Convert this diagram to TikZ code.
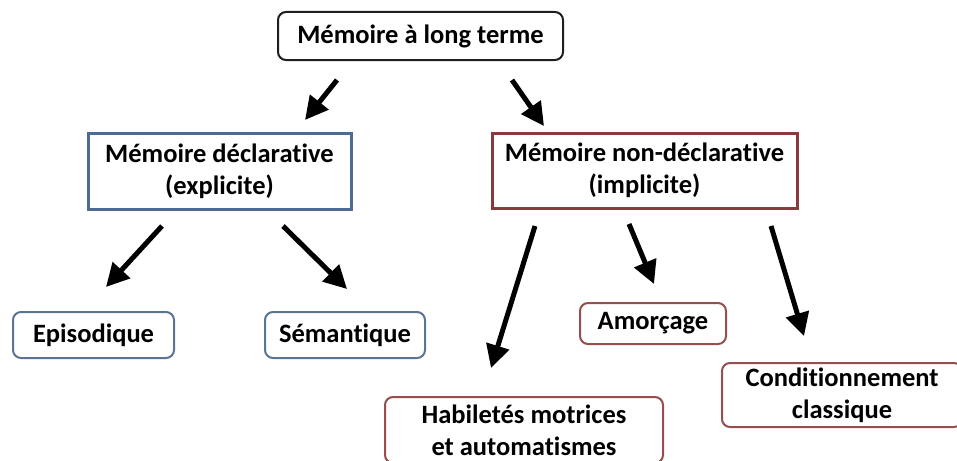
\documentclass[tikz,border=0pt]{standalone}
\usepackage{fontspec}
\setmainfont{Carlito}[Ligatures=NoCommon]
\usetikzlibrary{arrows.meta}
\definecolor{declblue}{HTML}{4E6C93}
\definecolor{nondred}{HTML}{8A3A3A}
\definecolor{leafblue}{HTML}{5B7496}
\definecolor{leafred}{HTML}{8E4E4E}
\tikzset{
  memtext/.style={font=\fontsize{26.5}{32}\selectfont\bfseries, align=center, inner sep=0pt, fill=white},
  topbox/.style={memtext, draw=black!88, line width=2pt, rounded corners=8pt},
  declbox/.style={memtext, draw=declblue, line width=3pt},
  nondbox/.style={memtext, draw=nondred, line width=3pt},
  leafb/.style={memtext, draw=leafblue, line width=2pt, rounded corners=8pt},
  leafr/.style={memtext, draw=nondred!90, line width=2pt, rounded corners=8pt},
  bigarrow/.style={line width=5pt, -{Triangle[length=23pt,width=23pt]}}
}
\begin{document}
\begin{tikzpicture}[x=1pt,y=-1pt]
  \useasboundingbox (0,0) rectangle (957,460);
  \node[topbox, minimum width=285pt, minimum height=48pt] (lt) at (420.5,36) {Mémoire à long terme};
  \node[declbox, minimum width=263pt, minimum height=76pt] (decl) at (219.5,171) {Mémoire déclarative\\(explicite)};
  \node[nondbox, minimum width=305pt, minimum height=75pt] (nond) at (644.5,170.5) {Mémoire non-déclarative\\(implicite)};
  \node[leafb, minimum width=161pt, minimum height=46pt] (epi) at (93.5,335) {Episodique};
  \node[leafb, minimum width=160pt, minimum height=46pt] (sem) at (345,335) {Sémantique};
  \node[leafr, minimum width=146pt, minimum height=41pt] (amor) at (653,323.5) {Amorçage};
  \node[leafr, minimum width=278pt, minimum height=66pt] (hab) at (524,430) {Habiletés motrices\\et automatismes};
  \node[leafr, minimum width=240pt, minimum height=64pt] (cond) at (842,395) {Conditionnement\\classique};
  \coordinate (lt1) at (337,80);
  \coordinate (decl0) at (305,120);
  \coordinate (lt2) at (512,80);
  \coordinate (nond0) at (544,126);
  \coordinate (decl1) at (162,226);
  \coordinate (epi0) at (106,287);
  \coordinate (decl2) at (283,226);
  \coordinate (sem0) at (347,289);
  \coordinate (nond1) at (535,226);
  \coordinate (hab0) at (491,368);
  \coordinate (nond2) at (629,224);
  \coordinate (amor0) at (654,284);
  \coordinate (nond3) at (771,226);
  \coordinate (cond0) at (804,336);
  \draw[bigarrow] (lt1) -- (decl0);
  \draw[bigarrow] (lt2) -- (nond0);
  \draw[bigarrow] (decl1) -- (epi0);
  \draw[bigarrow] (decl2) -- (sem0);
  \draw[bigarrow] (nond1) -- (hab0);
  \draw[bigarrow] (nond2) -- (amor0);
  \draw[bigarrow] (nond3) -- (cond0);
\end{tikzpicture}
\end{document}
